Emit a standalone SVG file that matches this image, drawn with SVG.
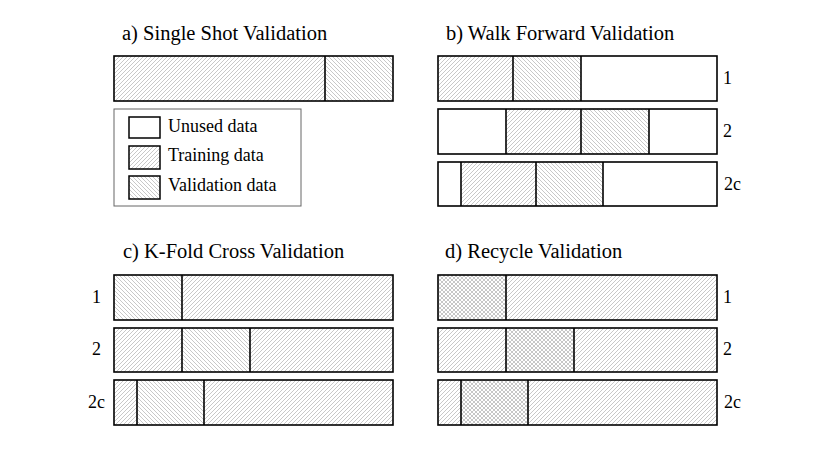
<svg xmlns="http://www.w3.org/2000/svg" width="830" height="467" viewBox="0 0 830 467">
<defs>
<pattern id="ne" patternUnits="userSpaceOnUse" width="4" height="4">
<path d="M-1,1 L1,-1 M0,4 L4,0 M3,5 L5,3" stroke="#b0b0b0" stroke-width="0.7"/>
</pattern>
<pattern id="nw" patternUnits="userSpaceOnUse" width="4" height="4">
<path d="M-1,3 L1,5 M0,0 L4,4 M3,-1 L5,1" stroke="#b0b0b0" stroke-width="0.7"/>
</pattern>
<pattern id="cross" patternUnits="userSpaceOnUse" width="4" height="4">
<path d="M-1,1 L1,-1 M0,4 L4,0 M3,5 L5,3 M-1,3 L1,5 M0,0 L4,4 M3,-1 L5,1" stroke="#a8a8a8" stroke-width="0.65"/>
</pattern>
</defs>
<style>
.tt{font-family:"Liberation Serif",serif;font-size:20.5px;fill:#000}
.lg{font-family:"Liberation Serif",serif;font-size:18px;fill:#000}
.rl{font-family:"Liberation Serif",serif;font-size:18px;fill:#000}
.o{fill:none;stroke:#000;stroke-width:1.6}
.d{stroke:#000;stroke-width:1.6}
.ne{fill:url(#ne)}
.nw{fill:url(#nw)}
.x{fill:url(#cross)}
.w{fill:#fff}
</style>
<rect width="830" height="467" fill="#fff"/>

<g id="panel-a">
<text class="tt" x="122" y="40">a) Single Shot Validation</text>
<g id="a-bar">
<rect class="ne" x="114" y="56" width="211" height="45"/>
<rect class="nw" x="325" y="56" width="68" height="45"/>
<rect class="o" x="114" y="56" width="279" height="45"/>
<line class="d" x1="325" y1="56" x2="325" y2="101"/>
</g>
<g id="legend">
<rect x="114" y="109" width="187" height="97" fill="#fff" stroke="#666" stroke-width="1"/>
<rect class="w" x="129" y="117" width="31" height="21" stroke="#000" stroke-width="1.5"/>
<rect class="ne" x="129" y="146" width="31" height="23" stroke="#000" stroke-width="1.5"/>
<rect class="nw" x="129" y="176" width="31" height="23" stroke="#000" stroke-width="1.5"/>
<text class="lg" x="168" y="132">Unused data</text>
<text class="lg" x="168" y="161">Training data</text>
<text class="lg" x="168" y="191">Validation data</text>
</g>
</g>

<g id="panel-b">
<text class="tt" x="446" y="40">b) Walk Forward Validation</text>
<g id="b-row1">
<rect class="ne" x="438" y="56" width="75" height="45"/>
<rect class="nw" x="513" y="56" width="68" height="45"/>
<rect class="o" x="438" y="56" width="279" height="45"/>
<line class="d" x1="513" y1="56" x2="513" y2="101"/>
<line class="d" x1="581" y1="56" x2="581" y2="101"/>
<text class="rl" x="723" y="84">1</text>
</g>
<g id="b-row2">
<rect class="ne" x="506" y="109" width="75" height="45"/>
<rect class="nw" x="581" y="109" width="68" height="45"/>
<rect class="o" x="438" y="109" width="279" height="45"/>
<line class="d" x1="506" y1="109" x2="506" y2="154"/>
<line class="d" x1="581" y1="109" x2="581" y2="154"/>
<line class="d" x1="649" y1="109" x2="649" y2="154"/>
<text class="rl" x="723" y="137">2</text>
</g>
<g id="b-row3">
<rect class="ne" x="461" y="162" width="75" height="44"/>
<rect class="nw" x="536" y="162" width="67" height="44"/>
<rect class="o" x="438" y="162" width="279" height="44"/>
<line class="d" x1="461" y1="162" x2="461" y2="206"/>
<line class="d" x1="536" y1="162" x2="536" y2="206"/>
<line class="d" x1="603" y1="162" x2="603" y2="206"/>
<text class="rl" x="724" y="190">2c</text>
</g>
</g>

<g id="panel-c">
<text class="tt" x="123" y="258">c) K-Fold Cross Validation</text>
<g id="c-row1">
<rect class="nw" x="114" y="275" width="68" height="45"/>
<rect class="ne" x="182" y="275" width="211" height="45"/>
<rect class="o" x="114" y="275" width="279" height="45"/>
<line class="d" x1="182" y1="275" x2="182" y2="320"/>
<text class="rl" x="92" y="303">1</text>
</g>
<g id="c-row2">
<rect class="ne" x="114" y="328" width="68" height="44"/>
<rect class="nw" x="182" y="328" width="68" height="44"/>
<rect class="ne" x="250" y="328" width="143" height="44"/>
<rect class="o" x="114" y="328" width="279" height="44"/>
<line class="d" x1="182" y1="328" x2="182" y2="372"/>
<line class="d" x1="250" y1="328" x2="250" y2="372"/>
<text class="rl" x="92" y="355">2</text>
</g>
<g id="c-row3">
<rect class="ne" x="114" y="380" width="23" height="45"/>
<rect class="nw" x="137" y="380" width="67" height="45"/>
<rect class="ne" x="204" y="380" width="189" height="45"/>
<rect class="o" x="114" y="380" width="279" height="45"/>
<line class="d" x1="137" y1="380" x2="137" y2="425"/>
<line class="d" x1="204" y1="380" x2="204" y2="425"/>
<text class="rl" x="88" y="408">2c</text>
</g>
</g>

<g id="panel-d">
<text class="tt" x="445" y="258">d) Recycle Validation</text>
<g id="d-row1">
<rect class="x" x="438" y="275" width="68" height="45"/>
<rect class="ne" x="506" y="275" width="211" height="45"/>
<rect class="o" x="438" y="275" width="279" height="45"/>
<line class="d" x1="506" y1="275" x2="506" y2="320"/>
<text class="rl" x="723" y="303">1</text>
</g>
<g id="d-row2">
<rect class="ne" x="438" y="328" width="68" height="44"/>
<rect class="x" x="506" y="328" width="68" height="44"/>
<rect class="ne" x="574" y="328" width="143" height="44"/>
<rect class="o" x="438" y="328" width="279" height="44"/>
<line class="d" x1="506" y1="328" x2="506" y2="372"/>
<line class="d" x1="574" y1="328" x2="574" y2="372"/>
<text class="rl" x="723" y="355">2</text>
</g>
<g id="d-row3">
<rect class="ne" x="438" y="380" width="23" height="45"/>
<rect class="x" x="461" y="380" width="67" height="45"/>
<rect class="ne" x="528" y="380" width="189" height="45"/>
<rect class="o" x="438" y="380" width="279" height="45"/>
<line class="d" x1="461" y1="380" x2="461" y2="425"/>
<line class="d" x1="528" y1="380" x2="528" y2="425"/>
<text class="rl" x="724" y="408">2c</text>
</g>
</g>
</svg>
